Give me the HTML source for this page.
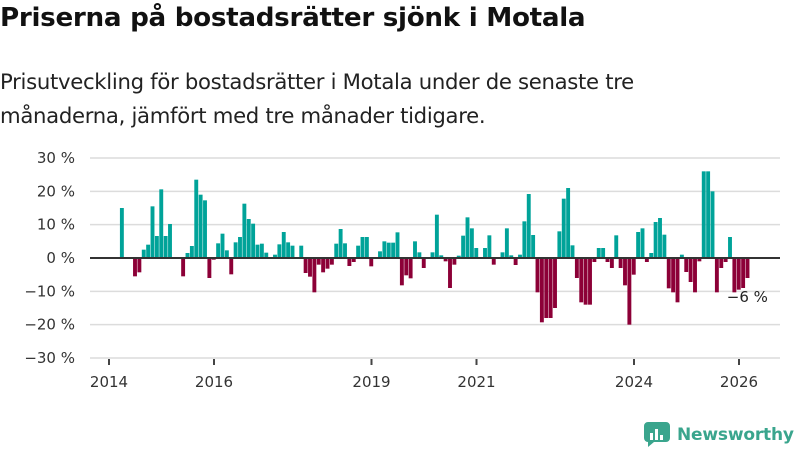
<!DOCTYPE html>
<html><head><meta charset="utf-8"><style>
body{margin:0;background:#fff;font-family:"Liberation Sans","DejaVu Sans",sans-serif;}
#wrap{position:relative;width:800px;height:450px;overflow:hidden;}
h1{position:absolute;left:0;top:3px;margin:0;font-size:26.2px;font-weight:bold;color:#111;font-family:"DejaVu Sans",sans-serif;letter-spacing:-0.3px}
p{position:absolute;left:0;top:65px;margin:0;font-size:21.2px;line-height:34px;color:#222;font-family:"DejaVu Sans",sans-serif;letter-spacing:-0.3px}
</style></head><body><div id="wrap">
<h1>Priserna på bostadsrätter sjönk i Motala</h1>
<p>Prisutveckling för bostadsrätter i Motala under de senaste tre<br>månaderna, jämfört med tre månader tidigare.</p>
<svg id="chart" width="800" height="450" style="position:absolute;left:0;top:0"></svg>
</div>
<script>
const values=[15,0,0,-5.5,-4.3,2.5,4,15.5,6.6,20.6,6.6,10.2,0,0,-5.5,1.5,3.6,23.5,19,17.3,-6,-0.5,4.4,7.3,2.3,-4.9,4.7,6.3,16.3,11.7,10.3,4,4.3,1.6,0,1,4.1,7.8,4.7,3.7,0,3.7,-4.5,-5.6,-10.3,-2,-4.3,-3.2,
-2,4.3,8.7,4.4,-2.4,-1.2,3.7,6.3,6.3,-2.5,0,2,5,4.6,4.6,7.7,-8.2,-5.2,-6.1,5,1.7,-3,0,1.7,13,0.8,-1,-9,-2,0.7,6.7,12.2,8.9,3,0,3,6.8,-2,0,1.7,8.9,0.8,-2.1,1,11,19.2,6.9,-10.3,-19.3,-18,-18,-15,8,
17.8,21,3.8,-6,-13.3,-14,-14,-1.2,3,3,-1.2,-3,6.8,-3,-8.2,-20,-5,7.8,8.9,-1.2,1.5,10.8,12,7,-9.1,-10.3,-13.3,1,-4.2,-7.2,-10.3,-1,26,26,20,-10.3,-3,-1.2,6.3,-10.3,-9.5,-9,-6];
const firstMonth=3; // months since Jan 2014
const yTicks=[30,20,10,0,-10,-20,-30];
const yTickLabels=["30 %","20 %","10 %","0 %","−10 %","−20 %","−30 %"];
const xTickYears=[2014,2016,2019,2021,2024,2026];
const lastLabel="−6 %";
const svg=document.getElementById('chart');
const NS='http://www.w3.org/2000/svg';
const x=m=>109+m*4.375;
const y=v=>258-v*3.333;
function mk(t,a){const e=document.createElementNS(NS,t);for(const k in a)e.setAttribute(k,a[k]);svg.appendChild(e);return e;}
yTicks.forEach((v,i)=>{
 const g=mk('line',{x1:90,x2:780,y1:y(v),y2:y(v),stroke:'#dcdcdc','stroke-width':1.5});
 
 
 const t=mk('text',{x:75,y:y(v)+5,'text-anchor':'end','font-size':15,fill:'#333','font-family':'DejaVu Sans, sans-serif'});
 t.textContent=yTickLabels[i];
 
 
});
values.forEach((v,i)=>{
 const m=firstMonth+i;
 const r=mk('rect',{x:x(m)-2.2,width:3.9,y:Math.min(y(v),y(0)),height:Math.abs(y(v)-y(0)),fill:v>=0?'#00a399':'#8c0037'});
 
 
});
const z=mk('line',{x1:90,x2:780,y1:y(0),y2:y(0),stroke:'#333','stroke-width':2});


xTickYears.forEach(yr=>{
 const xx=x((yr-2014)*12);
 const tk=mk('line',{x1:xx,x2:xx,y1:359,y2:365,stroke:'#444','stroke-width':2});
 
 
 const t=mk('text',{x:xx,y:387,'text-anchor':'middle','font-size':15,fill:'#333','font-family':'DejaVu Sans, sans-serif'});
 t.textContent=yr;
 
 
});
const lastM=firstMonth+values.length-1;
const lb=mk('text',{x:x(lastM)-21,y:y(values[values.length-1])+24,'font-size':15,fill:'#222','font-family':'DejaVu Sans, sans-serif'});
lb.textContent=lastLabel;


// logo
const lg=mk('g',{});


const ic=document.createElementNS(NS,'path');
ic.setAttribute('d','M648 422 h18 a4 4 0 0 1 4 4 v12 a4 4 0 0 1 -4 4 h-12 l-6 5 v-5 a4 4 0 0 1 -4 -4 v-12 a4 4 0 0 1 4 -4z');
ic.setAttribute('fill','#3aa58d');lg.appendChild(ic);
[[650,433,3],[655,429,3],[660,435,3]].forEach(b=>{const r=document.createElementNS(NS,'rect');r.setAttribute('x',b[0]);r.setAttribute('y',b[1]);r.setAttribute('width',b[2]);r.setAttribute('height',440-b[1]);r.setAttribute('fill','#fff');lg.appendChild(r);});
const lt=document.createElementNS(NS,'text');
lt.setAttribute('x',677);lt.setAttribute('y',440);lt.setAttribute('font-size',17);lt.setAttribute('font-weight','bold');lt.setAttribute('fill','#3aa58d');lt.setAttribute('font-family','DejaVu Sans, sans-serif');
lt.setAttribute('textLength',117);
lt.textContent='Newsworthy';lg.appendChild(lt);
</script></body></html>
